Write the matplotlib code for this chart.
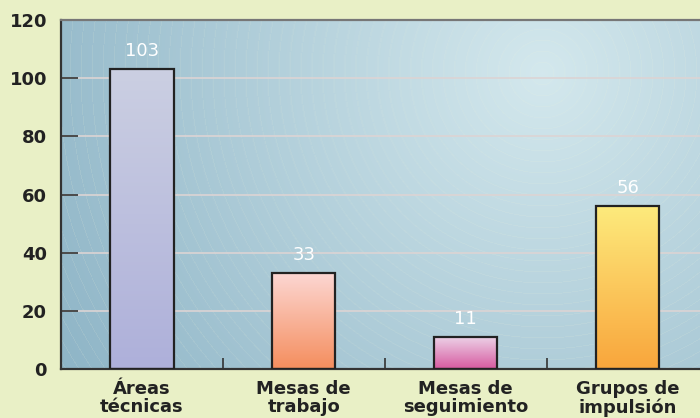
import matplotlib
matplotlib.use('Agg')
import matplotlib.pyplot as plt
import numpy as np
from matplotlib.colors import LinearSegmentedColormap

categorias = ['Áreas\ntécnicas', 'Mesas de\ntrabajo', 'Mesas de\nseguimiento', 'Grupos de\nimpulsión']
valores = [103, 33, 11, 56]
# colores de degradado (arriba, abajo) para cada barra
colores_top = ['#cbcfe2', '#fcd6d2', '#ecd0e6', '#fdea7c']
colores_bot = ['#aeb0da', '#f58e5e', '#d75aa0', '#f9a63c']

plt.rcParams['font.family'] = ['DejaVu Sans']

fig = plt.figure(figsize=(7.0, 4.18), dpi=100)
fig.patch.set_facecolor('#e9f0c6')
ax = fig.add_axes([61/700, 1 - 369/418, 1 - 61/700, (369 - 20)/418])

# fondo con degradado radial
W, H = 640, 349
xx, yy = np.meshgrid(np.arange(W), np.arange(H))
cx, cy = 543 - 61, 73 - 20
d = np.sqrt((xx - cx)**2 + (yy - cy)**2)
t = np.clip(d / 560, 0, 1)
c0 = np.array([0.83, 0.91, 0.93])
c1 = np.array([0.56, 0.71, 0.78])
img = c0[None, None, :] * (1 - t[..., None]) + c1[None, None, :] * t[..., None]
# anillos tenues
ring = (np.mod(d, 11) < 0.9) & (d > 10)
img[ring] = img[ring] * 0.88 + np.array([0.93, 0.95, 0.85]) * 0.12
ax.imshow(img, extent=[0, 1, 0, 1], transform=ax.transAxes, aspect='auto', zorder=0)

x = np.arange(len(categorias))
ancho = 0.39
ax.set_xlim(-0.5, 3.4475)
ax.set_ylim(0, 120)

for yv in [20, 40, 60, 80, 100]:
    ax.axhline(yv, color='#dcd4d4', lw=1.2, zorder=1)

barras = ax.bar(x, valores, ancho, facecolor='none', edgecolor='#222222', linewidth=1.6, zorder=3)
for b, ct, cb, v in zip(barras, colores_top, colores_bot, valores):
    cmap = LinearSegmentedColormap.from_list('g', [cb, ct])
    grad = np.linspace(0, 1, 100).reshape(-1, 1)
    im = ax.imshow(grad, extent=[b.get_x(), b.get_x() + b.get_width(), 0, b.get_height()],
                   origin='lower', aspect='auto', cmap=cmap, zorder=2)
    im.set_clip_path(b)
    ax.text(b.get_x() + b.get_width()/2, v + 4.6, str(v), ha='center', va='baseline',
            color='white', fontsize=13)

ax.set_xticks(x)
ax.set_xticklabels(categorias, fontsize=13, fontweight='bold', linespacing=1.0, color='#222222')
ax.set_xticks(x[:-1] + 0.5, minor=True)
ax.tick_params(axis='x', which='major', length=0, pad=8)
ax.tick_params(axis='x', which='minor', direction='in', length=8, width=1.2, color='#333333')
ax.set_yticks([0, 20, 40, 60, 80, 100, 120])
ax.tick_params(axis='y', direction='in', length=12, width=1.2, color='#333333',
               labelsize=13, pad=10, labelcolor='#222222')
for lab in ax.get_yticklabels():
    lab.set_fontweight('bold')

ax.spines['left'].set_color('#333333')
ax.spines['left'].set_linewidth(1.6)
ax.spines['bottom'].set_color('#333333')
ax.spines['bottom'].set_linewidth(1.6)
ax.spines['top'].set_color('#777777')
ax.spines['top'].set_linewidth(1.6)
ax.spines['right'].set_visible(False)

fig.savefig('out.png', dpi=100, facecolor=fig.get_facecolor())
